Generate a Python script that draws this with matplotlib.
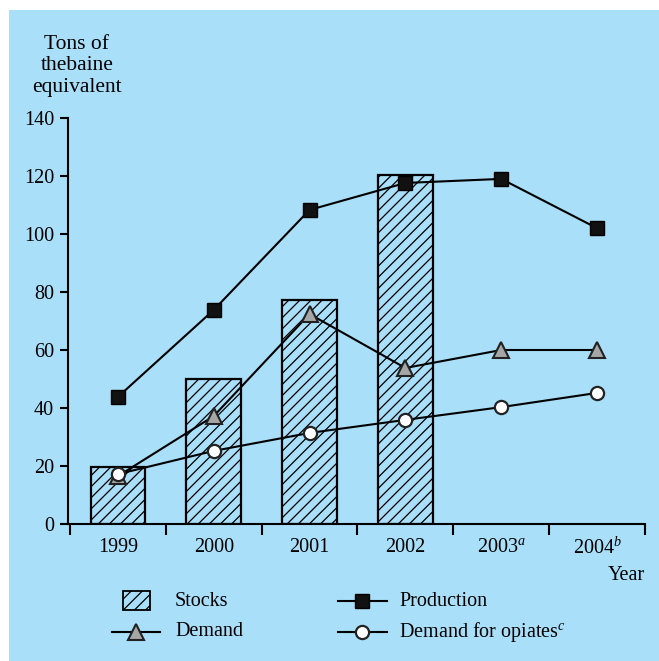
import numpy as np
import matplotlib
matplotlib.use('Agg')
from matplotlib import pyplot as plt
from matplotlib.patches import Rectangle
from matplotlib.lines import Line2D

plt.rcParams['font.family'] = ['Liberation Serif', 'DejaVu Serif']
plt.rcParams['mathtext.fontset'] = 'custom'
plt.rcParams['mathtext.rm'] = 'Liberation Serif'
plt.rcParams['mathtext.it'] = 'Liberation Serif:italic'
plt.rcParams['hatch.linewidth'] = 0.9

years = ['1999', '2000', '2001', '2002', '2003$^{a}$', '2004$^{b}$']
stocks = [19.7, 50.0, 77.2, 120.3]
production = [43.8, 73.8, 108.3, 117.6, 119.0, 102.0]
demand = [16.5, 37.2, 72.4, 53.8, 60.0, 60.0]
opiates = [17.2, 25.2, 31.4, 35.9, 40.3, 45.2]

bg = '#a9dff9'
W, H = 659, 661

fig = plt.figure(figsize=(6.59, 6.61), dpi=100)
fig.patch.set_facecolor('white')
fig.patches.append(Rectangle((9 / W, -0.01), 1.1, 1.01 - 10 / H, transform=fig.transFigure,
                             facecolor=bg, edgecolor='none', zorder=-10))

ax = fig.add_axes([68 / W, 1 - 524 / H, (645 - 68) / W, (524 - 118) / H])
ax.set_facecolor('none')

# styles
prod_kw = dict(color='black', linewidth=1.5, marker='s', markersize=9.5,
               markerfacecolor='#111111', markeredgecolor='black')
dem_kw = dict(color='black', linewidth=1.5, marker='^', markersize=11,
              markerfacecolor='#a6a6a6', markeredgecolor='#222222', markeredgewidth=1.5)
op_kw = dict(color='black', linewidth=1.5, marker='o', markersize=9.5,
             markerfacecolor='white', markeredgecolor='#222222', markeredgewidth=1.6)

x = np.arange(len(years))
ax.bar(x[:len(stocks)], stocks, width=0.57, facecolor='none', edgecolor='black',
       hatch='///', linewidth=1.6, zorder=2)
ax.plot(x, production, zorder=3, **prod_kw)
ax.plot(x, demand, zorder=3, **dem_kw)
ax.plot(x, opiates, zorder=4, **op_kw)

ax.set_xlim(-0.52, 5.5)
ax.set_ylim(0, 140)
ax.set_yticks(np.arange(0, 141, 20))
ax.tick_params(axis='y', direction='out', length=6, width=1.5, labelsize=14.5, pad=4)
ax.set_xticks(np.arange(-0.5, 5.6, 1))
ax.set_xticklabels([])
ax.tick_params(axis='x', direction='out', length=8, width=1.5)
ax.set_xticks(x, minor=True)
ax.set_xticklabels(years, minor=True)
ax.tick_params(axis='x', which='minor', length=0, labelsize=14.5, pad=10)

for s in ['top', 'right']:
    ax.spines[s].set_visible(False)
for s in ['left', 'bottom']:
    ax.spines[s].set_linewidth(1.5)

fig.text(77 / W, 1 - 66 / H, 'Tons of\nthebaine\nequivalent', ha='center', va='center',
         fontsize=15.5, linespacing=1.15)
fig.text(626 / W, 1 - 576 / H, 'Year', ha='center', va='center', fontsize=14.5)

# legend, drawn by hand in figure pixels
def fx(px):
    return px / W

def fy(py):
    return 1 - py / H

fig.patches.append(Rectangle((fx(123), fy(610)), fx(150) - fx(123), fy(591) - fy(610),
                             transform=fig.transFigure, facecolor='none', edgecolor='black',
                             hatch='///', linewidth=1.3))
fig.text(fx(175), fy(601), 'Stocks', ha='left', va='center', fontsize=14.5)

fig.lines.append(Line2D([fx(112), fx(160)], [fy(632), fy(632)], transform=fig.transFigure,
                        markevery=[], **dem_kw))
fig.lines.append(Line2D([fx(136)], [fy(632)], transform=fig.transFigure, **dem_kw))
fig.text(fx(175), fy(632), 'Demand', ha='left', va='center', fontsize=14.5)

fig.lines.append(Line2D([fx(338), fx(387)], [fy(601), fy(601)], transform=fig.transFigure,
                        markevery=[], **prod_kw))
fig.lines.append(Line2D([fx(362)], [fy(601)], transform=fig.transFigure, **prod_kw))
fig.text(fx(399), fy(601), 'Production', ha='left', va='center', fontsize=14.5)

fig.lines.append(Line2D([fx(338), fx(387)], [fy(632), fy(632)], transform=fig.transFigure,
                        markevery=[], **op_kw))
fig.lines.append(Line2D([fx(362)], [fy(632)], transform=fig.transFigure, **op_kw))
fig.text(fx(399), fy(632), 'Demand for opiates$^{c}$', ha='left', va='center', fontsize=14.5)

fig.savefig('out.png', dpi=100, facecolor=fig.get_facecolor())
